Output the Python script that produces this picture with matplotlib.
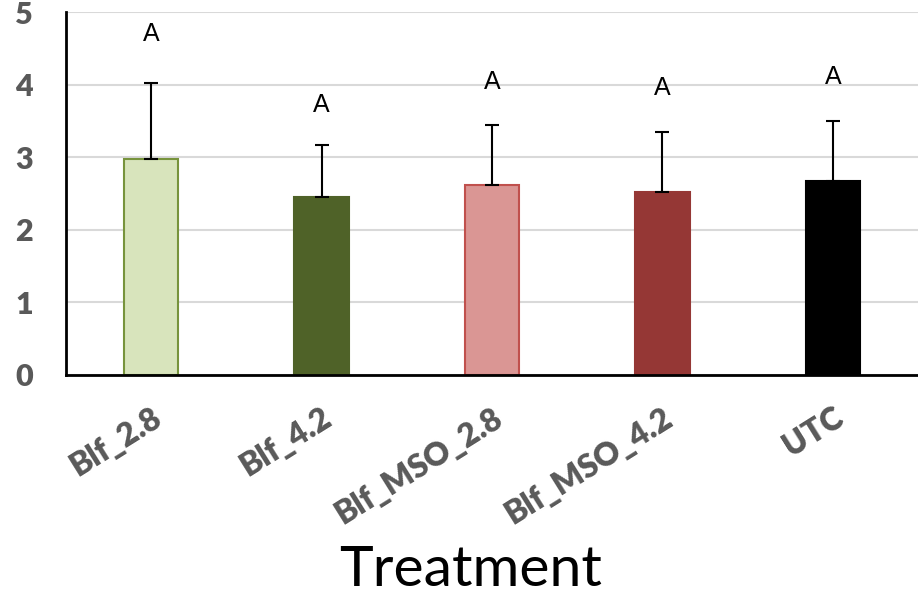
import numpy as np
import matplotlib
matplotlib.use('Agg')
import matplotlib.pyplot as plt

plt.rcParams['font.family'] = ['Lato', 'DejaVu Sans']

treatments = ['Blf_2.8', 'Blf_4.2', 'Blf_MSO_2.8', 'Blf_MSO_4.2', 'UTC']
means = [2.98, 2.45, 2.62, 2.52, 2.67]
errors = [1.04, 0.72, 0.82, 0.83, 0.83]
letters = ['A', 'A', 'A', 'A', 'A']
letter_y = [4.70, 3.72, 4.04, 3.95, 4.10]

fills = ['#D8E4BC', '#4F6228', '#DA9694', '#953735', '#000000']
edges = ['#77933C', '#4F6228', '#C0504D', '#953735', '#000000']

fig = plt.figure(figsize=(9.18, 6.0), dpi=100)
ax = fig.add_axes([66/918, 0.375, 1 - 66/918, 0.605])

x = np.arange(len(treatments))
ax.bar(x, means, width=0.32, color=fills, edgecolor=edges, linewidth=1.5, zorder=3)
ax.errorbar(x, means, yerr=[np.zeros(len(errors)), errors], fmt='none',
            ecolor='black', elinewidth=1.5, capsize=5, capthick=1.5, zorder=4)

for xi, lab, ly in zip(x, letters, letter_y):
    ax.text(xi, ly, lab, ha='center', va='center', fontsize=18,
            family=['Liberation Sans', 'DejaVu Sans'], color='black')

ax.set_xlim(-0.5, 4.5)
ax.set_ylim(0, 5)
ax.set_yticks([0, 1, 2, 3, 4, 5])
ax.yaxis.grid(True, color='#D9D9D9', linewidth=1.5, zorder=0)
ax.set_axisbelow(True)

for s in ['top', 'right']:
    ax.spines[s].set_visible(False)
ax.spines['left'].set_linewidth(2)
ax.spines['bottom'].set_linewidth(2)
ax.spines['bottom'].set_zorder(5)

ax.tick_params(axis='both', length=0)
ax.tick_params(axis='y', pad=24)
ax.set_yticklabels([str(v) for v in [0, 1, 2, 3, 4, 5]], fontsize=22,
                   fontweight='heavy', color='#595959')
ax.set_xticks(x)
ax.set_xticklabels(treatments, fontsize=23, fontweight='heavy', color='#595959',
                   rotation=32, ha='right', va='top', rotation_mode='anchor')
ax.tick_params(axis='x', pad=20)

fig.text(471/918, 1 - 586/600, 'Treatment', ha='center', va='baseline',
         fontsize=41, color='black')

fig.savefig('out.png', dpi=100)
